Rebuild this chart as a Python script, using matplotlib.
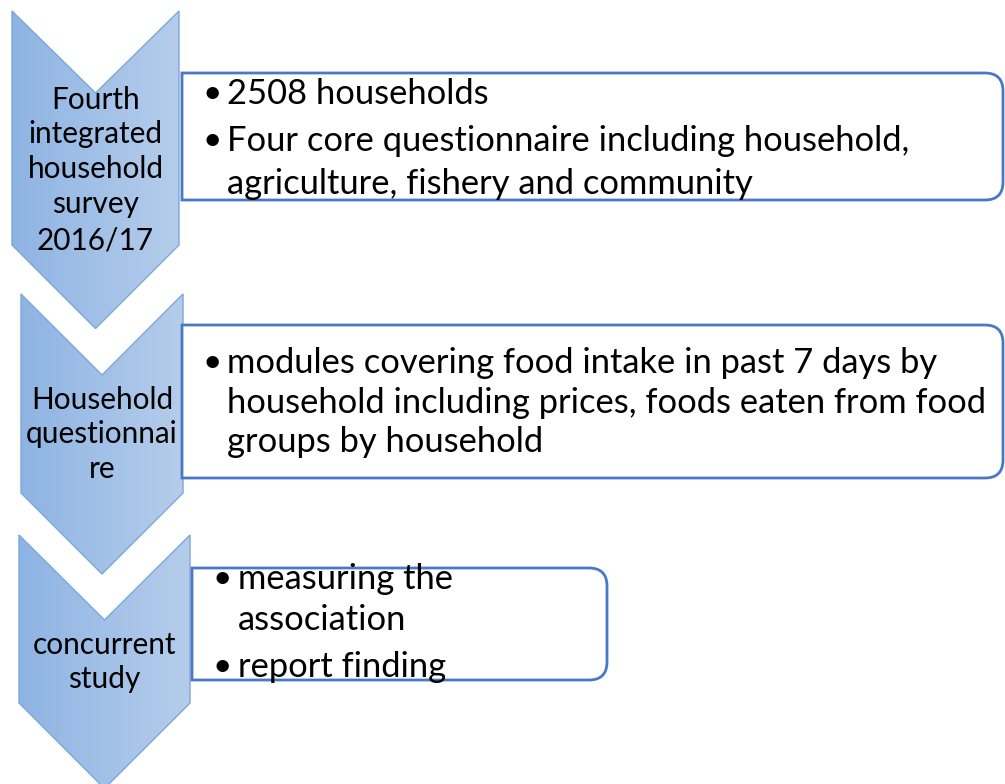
import numpy as np
import matplotlib
matplotlib.use("Agg")
import matplotlib.pyplot as plt
from matplotlib.path import Path
from matplotlib.patches import PathPatch, Polygon
from matplotlib.colors import LinearSegmentedColormap

# ---- content ----
step_labels = [
    ["Fourth", "integrated", "household", "survey", "2016/17"],
    ["Household", "questionnai", "re"],
    ["concurrent", "study"],
]
box_bullets = [
    [["2508 households"],
     ["Four core questionnaire including household,", "agriculture, fishery and community"]],
    [["modules covering food intake in past 7 days by",
      "household including prices, foods eaten from food",
      "groups by household"]],
    [["measuring the", "association"], ["report finding"]],
]

# ---- layout (pixel space) ----
W, H = 1005, 784
# chevrons: left, right, top, notch_y, side_bottom
chevrons = [
    (12, 179, 11, 93, 245),
    (21, 183, 294, 375, 493),
    (19, 190, 535, 620, 703),
]
chev_text_y = [
    [100, 134, 169, 204, 240],
    [400, 434, 469],
    [645, 679],
]
# boxes: left, top, right, bottom
boxes = [
    (182, 73, 1003, 200),
    (182, 325, 1003, 478),
    (192, 568, 607, 680),
]
box_line_y = [
    [[94], [141, 184]],
    [[363, 403, 442]],
    [[579, 620], [667]],
]
bullet_x = [212, 212, 222]
text_x = [227, 227, 238]

FONT = "Lato"
fig = plt.figure(figsize=(W / 100, H / 100), dpi=100)
ax = fig.add_axes([0, 0, 1, 1])
ax.set_xlim(0, W)
ax.set_ylim(H, 0)
ax.axis("off")

grad = np.linspace(0, 1, 256).reshape(1, -1)
cmap = LinearSegmentedColormap.from_list("g", ["#8eb4e3", "#b5cdeb"])

for (l, r, t, n, b), labels, ys in zip(chevrons, step_labels, chev_text_y):
    cx = (l + r) / 2
    half = (r - l) / 2
    tip = b + half
    pts = [(l, t), (cx, n), (r, t), (r, b), (cx, tip), (l, b)]
    poly = Polygon(pts, closed=True, facecolor="none", edgecolor="#7ba7dc", lw=1.0, zorder=2)
    ax.add_patch(poly)
    im = ax.imshow(grad, cmap=cmap, extent=(l, r, tip, t), aspect="auto", zorder=1)
    clip = Polygon(pts, closed=True, transform=ax.transData)
    im.set_clip_path(clip)
    for lab, y in zip(labels, ys):
        ax.text(cx, y, lab, ha="center", va="center", fontsize=21.4, family=FONT, color="black", zorder=5)

rad = 18
for i, (l, t, r, b) in enumerate(boxes):
    verts = [(l, t), (r - rad, t), (r, t), (r, t + rad), (r, b - rad), (r, b), (r - rad, b), (l, b), (l, t)]
    codes = [Path.MOVETO, Path.LINETO, Path.CURVE3, Path.CURVE3, Path.LINETO,
             Path.CURVE3, Path.CURVE3, Path.LINETO, Path.CLOSEPOLY]
    ax.add_patch(PathPatch(Path(verts, codes), facecolor="white", edgecolor="#4a78c6", lw=2.0, zorder=3))
    for para, ys in zip(box_bullets[i], box_line_y[i]):
        ax.text(bullet_x[i], ys[0], "\u2022", ha="center", va="center", fontsize=24, family=FONT, zorder=5)
        for line, y in zip(para, ys):
            ax.text(text_x[i], y, line, ha="left", va="center", fontsize=24.8, family=FONT, zorder=5)

fig.savefig("out.png", dpi=100)
